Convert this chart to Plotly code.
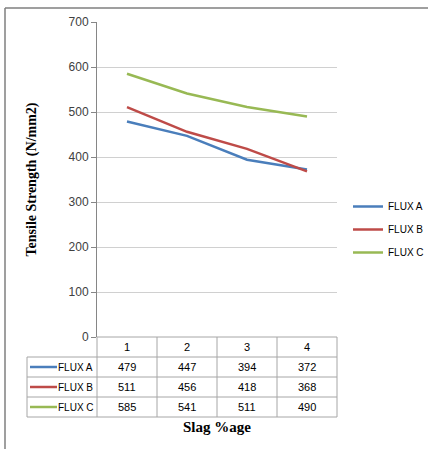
import plotly.graph_objects as go

# Tensile strength vs slag percentage for three fluxes
slag_pct = [1, 2, 3, 4]
series_names = ["FLUX A", "FLUX B", "FLUX C"]
flux_a = [479, 447, 394, 372]
flux_b = [511, 456, 418, 368]
flux_c = [585, 541, 511, 490]
y_ticks = [0, 100, 200, 300, 400, 500, 600, 700]

series_values = [flux_a, flux_b, flux_c]
colors = ["#4a7ebb", "#be4b48", "#98b954"]

W, H = 428, 449
ML, MR, MT, MB = 97, 91, 22, 112
PW, PH = W - ML - MR, H - MT - MB
X0, X1 = 0.5, 4.5  # x axis range (category slots)


def px_x(px):
    return (px - ML) / PW


def px_y(py):
    return 1 - (py - MT) / PH


def cat_to_paper(v):
    return (v - X0) / (X1 - X0)


fig = go.Figure()
for i, (name, vals) in enumerate(zip(series_names, series_values)):
    fig.add_trace(go.Scatter(
        x=slag_pct, y=vals, mode="lines", name=name,
        line=dict(color=colors[i], width=2.5),
        legendgroup=name,
    ))

grid_c = "#a6a6a6"
shapes = []
annotations = []

row_h = 20
header_top = MT + PH
row_tops = [header_top + row_h * (k + 1) for k in range(len(series_names))]
table_bottom = header_top + row_h * (len(series_names) + 1)
first_col_left = px_x(27)

# horizontal table rules
for k in range(len(series_names) + 2):
    ypx = header_top + row_h * k
    x_left = 0 if k == 0 else first_col_left
    shapes.append(dict(type="line", xref="paper", yref="paper",
                       x0=x_left, x1=1, y0=px_y(ypx), y1=px_y(ypx),
                       line=dict(color=grid_c, width=1)))
# vertical table rules at slot boundaries
for b in range(len(slag_pct) + 1):
    xb = cat_to_paper(X0 + b)
    shapes.append(dict(type="line", xref="paper", yref="paper",
                       x0=xb, x1=xb, y0=px_y(header_top), y1=px_y(table_bottom),
                       line=dict(color=grid_c, width=1)))
shapes.append(dict(type="line", xref="paper", yref="paper",
                   x0=first_col_left, x1=first_col_left,
                   y0=px_y(header_top + row_h), y1=px_y(table_bottom),
                   line=dict(color=grid_c, width=1)))

cell_font = dict(family="Liberation Sans, Arial, sans-serif", size=11, color="#000000")
name_font = dict(family="Liberation Sans, Arial, sans-serif", size=10, color="#000000")

# header row: slag percentages
for v in slag_pct:
    annotations.append(dict(x=v, xref="x", y=px_y(header_top + row_h / 2), yref="paper",
                            text=str(v), showarrow=False, xanchor="center",
                            yanchor="middle", font=cell_font))

# series rows: legend key, name, values
for k, (name, vals) in enumerate(zip(series_names, series_values)):
    yc = px_y(row_tops[k] + row_h / 2)
    shapes.append(dict(type="line", xref="paper", yref="paper",
                       x0=px_x(30), x1=px_x(57), y0=yc, y1=yc,
                       line=dict(color=colors[k], width=2.5)))
    annotations.append(dict(x=px_x(56), xref="paper", y=yc, yref="paper",
                            text=name, showarrow=False, xanchor="left",
                            yanchor="middle", font=name_font))
    for v, val in zip(slag_pct, vals):
        annotations.append(dict(x=v, xref="x", y=yc, yref="paper",
                                text=str(val), showarrow=False, xanchor="center",
                                yanchor="middle", font=cell_font))

# x axis title below the table
annotations.append(dict(x=0.5, xref="paper", y=px_y(427), yref="paper",
                        text="<b>Slag %age</b>", showarrow=False,
                        xanchor="center", yanchor="middle",
                        font=dict(family="Liberation Serif, Times New Roman, serif",
                                  size=15, color="#000000")))

# chart frame (top and left edges)
shapes.append(dict(type="line", xref="paper", yref="paper",
                   x0=px_x(5), x1=px_x(W + 2), y0=px_y(8), y1=px_y(8),
                   line=dict(color="#7f7f7f", width=1.5)))
shapes.append(dict(type="line", xref="paper", yref="paper",
                   x0=px_x(5), x1=px_x(5), y0=px_y(8), y1=px_y(H + 2),
                   line=dict(color="#7f7f7f", width=1.5)))

fig.update_layout(
    width=W, height=H,
    margin=dict(l=ML, r=MR, t=MT, b=MB, autoexpand=False),
    paper_bgcolor="white", plot_bgcolor="white",
    shapes=shapes, annotations=annotations,
    font=dict(family="Liberation Sans, Arial, sans-serif", size=11, color="#404040"),
    legend=dict(x=px_x(348), y=px_y(192), xanchor="left", yanchor="top",
                font=dict(size=10, color="#000000"), tracegroupgap=4,
                bgcolor="rgba(0,0,0,0)"),
    xaxis=dict(range=[X0, X1], showticklabels=False, showgrid=False,
               zeroline=False, showline=False, ticks=""),
    yaxis=dict(range=[0, 700], tickvals=y_ticks, showgrid=True, gridcolor="#d0d0d0",
               gridwidth=1, zeroline=False, showline=True, linecolor="#868686",
               ticks="outside", ticklen=5, tickcolor="#868686",
               tickfont=dict(size=12, color="#404040"),
               title=dict(text="<b>Tensile Strength (N/mm2)</b>", standoff=28,
                          font=dict(family="Liberation Serif, Times New Roman, serif",
                                    size=14, color="#000000"))),
)

fig.write_html("out.html")
